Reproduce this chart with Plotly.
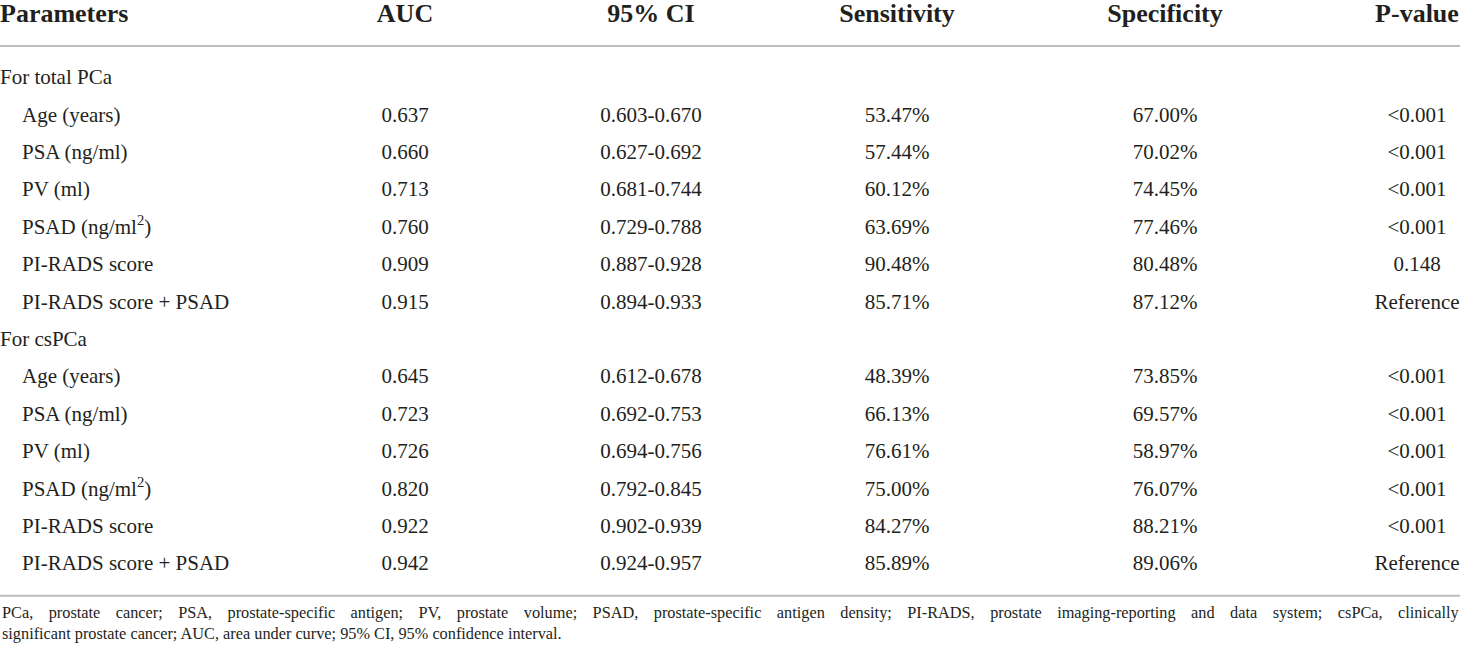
import plotly.graph_objects as go

headers = ["Parameters", "AUC", "95% CI", "Sensitivity", "Specificity", "P-value"]

groups = ["For total PCa", "For csPCa"]
parameters = ["Age (years)", "PSA (ng/ml)", "PV (ml)", "PSAD (ng/ml<sup>2</sup>)",
              "PI-RADS score", "PI-RADS score + PSAD"]

auc = [["0.637", "0.660", "0.713", "0.760", "0.909", "0.915"],
       ["0.645", "0.723", "0.726", "0.820", "0.922", "0.942"]]
ci95 = [["0.603-0.670", "0.627-0.692", "0.681-0.744", "0.729-0.788", "0.887-0.928", "0.894-0.933"],
        ["0.612-0.678", "0.692-0.753", "0.694-0.756", "0.792-0.845", "0.902-0.939", "0.924-0.957"]]
sensitivity = [["53.47%", "57.44%", "60.12%", "63.69%", "90.48%", "85.71%"],
               ["48.39%", "66.13%", "76.61%", "75.00%", "84.27%", "85.89%"]]
specificity = [["67.00%", "70.02%", "74.45%", "77.46%", "80.48%", "87.12%"],
               ["73.85%", "69.57%", "58.97%", "76.07%", "88.21%", "89.06%"]]
p_value = [["<0.001", "<0.001", "<0.001", "<0.001", "0.148", "Reference"],
           ["<0.001", "<0.001", "<0.001", "<0.001", "<0.001", "Reference"]]

foot_line1 = ("PCa, prostate cancer; PSA, prostate-specific antigen; PV, prostate volume; "
              "PSAD, prostate-specific antigen density; PI-RADS, prostate imaging-reporting "
              "and data system; csPCa, clinically")
foot_line2 = ("significant prostate cancer; AUC, area under curve; 95% CI, "
              "95% confidence interval.")

# layout constants (pixels across the 1460 wide page)
col_x = [0, 405, 651, 897, 1165, 1417]
indent = 22
W, H = 1460, 657
row0, step = 79, 37.4

font = "Liberation Serif"
ink = "#231f20"
rule = "#bdbdbd"

# build rows
row_lab, row_x, row_vals = [], [], []
for g in range(len(groups)):
    row_lab.append(groups[g]); row_x.append(0); row_vals.append(None)
    for i in range(len(parameters)):
        row_lab.append(parameters[i]); row_x.append(indent)
        row_vals.append([auc[g][i], ci95[g][i], sensitivity[g][i], specificity[g][i], p_value[g][i]])
rows = list(range(len(row_lab)))

head_y = -1.69

fig = go.Figure()

# header
fig.add_trace(go.Scatter(
    x=[col_x[0]], y=[head_y], text=["<b>" + headers[0] + "</b>"], mode="text",
    textposition="middle right", textfont=dict(family=font, size=26, color=ink),
    hoverinfo="skip", cliponaxis=False))
fig.add_trace(go.Scatter(
    x=col_x[1:], y=[head_y] * 5, text=["<b>" + h + "</b>" for h in headers[1:]], mode="text",
    textposition="middle center", textfont=dict(family=font, size=26, color=ink),
    hoverinfo="skip", cliponaxis=False))

# first column
fig.add_trace(go.Scatter(
    x=row_x, y=rows, text=row_lab, mode="text", textposition="middle right",
    textfont=dict(family=font, size=21, color=ink), hoverinfo="skip", cliponaxis=False))

# value columns
for c in range(5):
    ys = [r for r in rows if row_vals[r] is not None]
    fig.add_trace(go.Scatter(
        x=[col_x[c + 1]] * len(ys), y=ys, text=[row_vals[r][c] for r in ys],
        mode="text", textposition="middle center",
        textfont=dict(family=font, size=21, color=ink), hoverinfo="skip", cliponaxis=False))

# rules
for yy in [-0.882, 13.82]:
    fig.add_shape(type="line", x0=0, x1=W, y0=yy, y1=yy, xref="x", yref="y",
                  line=dict(color=rule, width=2))

# footnote, first line spread out to the full width like the justified original
wide = foot_line1.replace(" ", " \u2002\u2009")
fig.add_annotation(text=wide + "<br>" + foot_line2, x=0, y=13.96, xref="x", yref="y",
                   xanchor="left", yanchor="top", align="left", showarrow=False,
                   font=dict(family=font, size=16.3, color=ink))

fig.update_xaxes(range=[0, W], visible=False, fixedrange=True)
fig.update_yaxes(range=[(H - row0) / step, -row0 / step], visible=False, fixedrange=True)
fig.update_layout(width=W, height=H, margin=dict(l=0, r=0, t=0, b=0),
                  plot_bgcolor="white", paper_bgcolor="white", showlegend=False)

fig.write_html("out.html", config={"displayModeBar": False},
               post_script="document.body.style.margin='0';")
